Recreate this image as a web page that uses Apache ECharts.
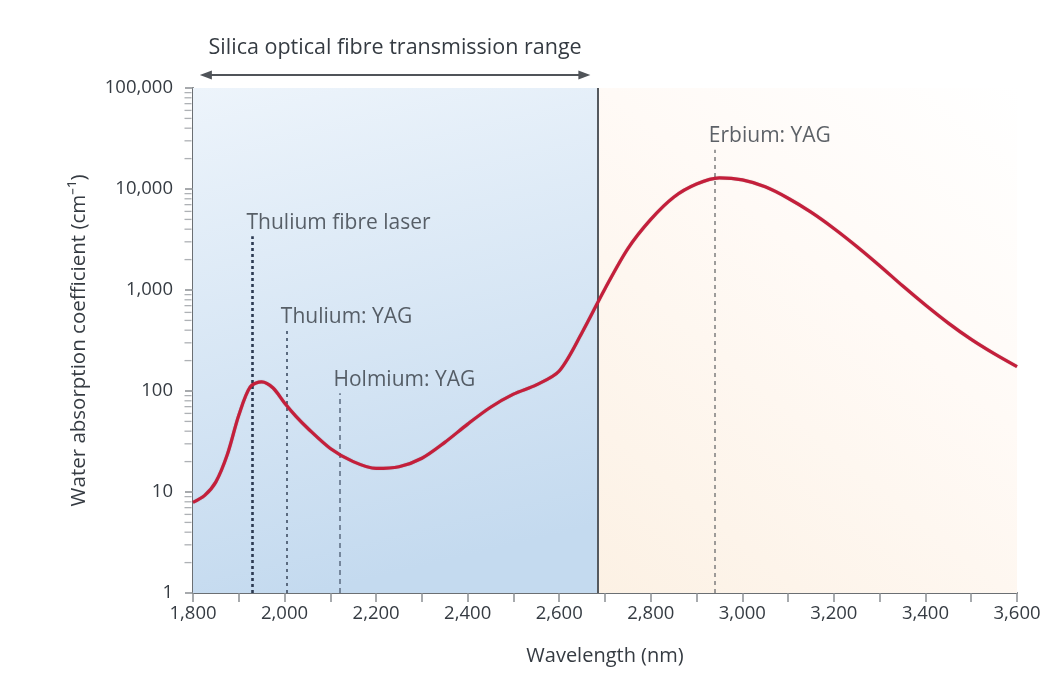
<!DOCTYPE html>
<html><head><meta charset="utf-8">
<script src="https://cdn.jsdelivr.net/npm/echarts@6/dist/echarts.min.js"></script>
<style>html,body{margin:0;padding:0;background:#fff}#c{width:1064px;height:673px}</style>
</head><body><div id="c"></div>
<script>
// ---- data ----
const wavelength = [1800, 1825, 1850, 1875, 1900, 1925, 1950, 1975, 2000, 2025, 2050, 2100, 2150, 2200, 2250, 2300, 2350, 2400, 2450, 2500, 2550, 2600, 2650, 2700, 2750, 2800, 2850, 2900, 2950, 3000, 3050, 3100, 3150, 3200, 3250, 3300, 3350, 3400, 3450, 3500, 3550, 3600];
const absorption = [7.9, 9.2, 12.6, 23.5, 57.5, 110, 123, 107, 76, 56, 43, 27, 20, 17.1, 17.8, 21.6, 31, 47, 69, 93, 115, 158, 380, 1030, 2570, 5000, 8300, 11200, 12900, 12300, 10500, 8100, 5900, 4070, 2700, 1740, 1100, 710, 470, 324, 234, 174];
const laserNames = ['Thulium fibre laser', 'Thulium: YAG', 'Holmium: YAG', 'Erbium: YAG'];
const laserWavelength = [1930, 2005, 2120, 2940];
const laserLineTop = [3400, 400, 95, 24500];
const transmissionEdge = 2685;
const transmissionArrow = [1815, 2668];
const transmissionTitle = 'Silica optical fibre transmission range';
const yMinorTicks = [2,3,4,5,6,7,8,9, 20,30,40,50,60,70,80,90, 200,300,400,500,600,700,800,900, 2000,3000,4000,5000,6000,7000,8000,9000, 20000,30000,40000,50000,60000,70000,80000,90000];
const xRange = [1800, 3600];
const yRange = [1, 100000];

const FONT = '"Open Sans"';
const TXT = '#353b42';

const lineStyles = [
  {color: '#2c3a52', width: 2.6, type: [3, 3]},
  {color: '#5b6b80', width: 2, type: [3, 4]},
  {color: '#5b6b80', width: 1.5, type: [5, 4]},
  {color: '#7d7d7d', width: 1.5, type: [4, 4]}
];

const chart = echarts.init(document.getElementById('c'), null, {renderer: 'canvas'});
const fmt = v => Number(v).toLocaleString('en-US');

const option = {
  animation: false,
  backgroundColor: '#ffffff',
  grid: {left: 193, right: 47, top: 88, bottom: 80, containLabel: false},
  xAxis: {
    type: 'value', min: xRange[0], max: xRange[1], interval: 200,
    name: 'Wavelength (nm)', nameLocation: 'middle', nameGap: 53,
    nameTextStyle: {fontFamily: FONT, fontSize: 20, color: TXT},
    axisLine: {show: true, lineStyle: {color: '#6b6f73', width: 2}},
    axisTick: {show: true, length: 9, lineStyle: {color: '#8a8e92', width: 1.5}},
    minorTick: {show: true, splitNumber: 2, length: 9, lineStyle: {color: '#8a8e92', width: 1.5}},
    axisLabel: {formatter: fmt, margin: 11, fontFamily: FONT, fontSize: 18.5, color: TXT},
    splitLine: {show: false}
  },
  yAxis: {
    type: 'log', logBase: 10, min: yRange[0], max: yRange[1],
    name: 'Water absorption coefficient (cm\u207B\u00B9)', nameLocation: 'middle', nameGap: 103,
    nameTextStyle: {fontFamily: FONT, fontSize: 20.5, color: TXT},
    axisLine: {show: true, lineStyle: {color: '#6b6f73', width: 2}},
    axisTick: {show: true, length: 8, lineStyle: {color: '#8a8e92', width: 1.5}},
    axisLabel: {formatter: fmt, margin: 20, fontFamily: FONT, fontSize: 18.5, color: TXT},
    splitLine: {show: false}
  },
  series: [
    {
      name: 'regions', type: 'line', data: [], silent: true,
      markArea: {
        silent: true,
        data: [
          [{xAxis: xRange[0], yAxis: yRange[0], itemStyle: {color: new echarts.graphic.LinearGradient(0, 0, 0.3, 1, [{offset: 0, color: '#edf4fb'}, {offset: 1, color: '#c4daef'}])}},
           {xAxis: transmissionEdge, yAxis: yRange[1]}],
          [{xAxis: transmissionEdge, yAxis: yRange[0], itemStyle: {color: new echarts.graphic.LinearGradient(0, 1, 1, 0, [{offset: 0, color: '#fcf1e4'}, {offset: 0.6, color: '#fffaf6'}, {offset: 1, color: '#ffffff'}])}},
           {xAxis: xRange[1], yAxis: yRange[1]}]
        ]
      },
      markLine: {
        silent: true, symbol: ['none', 'none'], label: {show: false},
        data: [
          [{coord: [transmissionEdge, yRange[0]]}, {coord: [transmissionEdge, yRange[1]]}]
        ],
        lineStyle: {color: '#55595e', width: 2, type: 'solid'}
      }
    },
    {
      name: 'laser lines', type: 'scatter', silent: true, symbolSize: 0, clip: false,
      data: laserWavelength.map((w, i) => ({
        value: [w, laserLineTop[i]],
        label: {
          show: true, formatter: laserNames[i], position: 'top', align: 'left',
          offset: [-6, 0], distance: 3, fontFamily: FONT, fontSize: 21, color: TXT
        }
      })),
      markLine: {
        silent: true, symbol: ['none', 'none'], label: {show: false},
        data: laserWavelength.map((w, i) => [
          {coord: [w, yRange[0]], lineStyle: lineStyles[i]},
          {coord: [w, laserLineTop[i]]}
        ])
      }
    },
    {
      name: 'minor ticks', type: 'scatter', silent: true, clip: false,
      symbol: 'rect', symbolSize: [7, 1.3], symbolOffset: [-5, 0],
      itemStyle: {color: '#9a9ea2'},
      data: yMinorTicks.map(v => [xRange[0], v])
    },
    {
      name: 'Water absorption', type: 'line', smooth: 0.3, showSymbol: false,
      data: wavelength.map((w, i) => [w, absorption[i]]),
      lineStyle: {color: '#c41f3b', width: 3.2, shadowColor: 'rgba(90,10,20,0.35)', shadowBlur: 1},
      z: 5
    }
  ]
};
chart.setOption(option);

// annotation arrow above the plot, positioned through the axis scales
const x1 = chart.convertToPixel({xAxisIndex: 0}, transmissionArrow[0]);
const x2 = chart.convertToPixel({xAxisIndex: 0}, transmissionArrow[1]);
const yTop = chart.convertToPixel({yAxisIndex: 0}, yRange[1]);
const ay = yTop - 13;
chart.setOption({
  graphic: [
    {type: 'line', shape: {x1: x1 + 6, y1: ay, x2: x2 - 6, y2: ay}, style: {stroke: '#505459', lineWidth: 2.2}, silent: true},
    {type: 'polygon', shape: {points: [[x1, ay], [x1 + 12, ay - 4.5], [x1 + 12, ay + 4.5]]}, style: {fill: '#505459'}, silent: true},
    {type: 'polygon', shape: {points: [[x2, ay], [x2 - 12, ay - 4.5], [x2 - 12, ay + 4.5]]}, style: {fill: '#505459'}, silent: true},
    {type: 'text', x: (x1 + x2) / 2, y: ay - 27, silent: true,
     style: {text: transmissionTitle, fill: TXT, font: '21.5px ' + FONT, align: 'center', verticalAlign: 'middle'}}
  ]
});
</script>
</body></html>
